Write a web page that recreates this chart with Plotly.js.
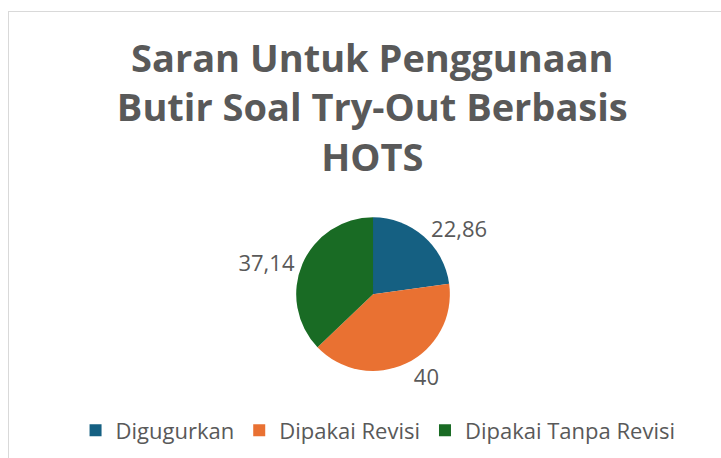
<!DOCTYPE html>
<html>
<head>
<meta charset="utf-8">
<script src="https://cdn.plot.ly/plotly-3.0.1.min.js"></script>
<style>
  html, body { margin: 0; padding: 0; background: #ffffff; overflow: hidden; }
  #frame { position: absolute; left: 8px; top: 11px; width: 720px; height: 460px;
           border: 1px solid #d9d9d9; box-sizing: border-box; background: #fff; }
  #chart { position: absolute; left: 0; top: 0; width: 718px; height: 450px; }
</style>
</head>
<body>
<div id="frame"><div id="chart"></div></div>
<script>
const categories = ["Digugurkan", "Dipakai Revisi", "Dipakai Tanpa Revisi"];
const values = [22.86, 40, 37.14];
const colors = ["#156082", "#E97132", "#196B24"];
const titleText = "Saran Untuk Penggunaan<br>Butir Soal Try-Out Berbasis<br>HOTS";

const FONT = "'Open Sans', Roboto, 'Liberation Sans', sans-serif";

const data = [{
  type: "pie",
  labels: categories,
  values: values,
  marker: { colors: colors, line: { color: "#ffffff", width: 0 } },
  sort: false,
  direction: "clockwise",
  rotation: 0,
  textposition: "outside",
  texttemplate: "%{value}",
  textfont: { family: FONT, size: 22, color: "#595959" },
  hoverinfo: "skip",
  domain: { x: [0.400, 0.614], y: [0.202, 0.544] }
}];

const layout = {
  width: 718,
  height: 450,
  margin: { l: 0, r: 0, t: 0, b: 0 },
  paper_bgcolor: "#ffffff",
  separators: ",.",
  font: { family: FONT, color: "#595959" },
  title: {
    text: titleText,
    font: { family: FONT, size: 38, color: "#595959", weight: "bold" },
    x: 0.506, xanchor: "center",
    y: 0.867, yanchor: "top"
  },
  showlegend: true,
  legend: {
    orientation: "h",
    x: 0.514, xanchor: "center",
    y: 0.07, yanchor: "middle",
    font: { family: FONT, size: 22, color: "#595959" },
    traceorder: "normal"
  }
};

Plotly.newPlot("chart", data, layout, { displayModeBar: false, staticPlot: true });
</script>
</body>
</html>
